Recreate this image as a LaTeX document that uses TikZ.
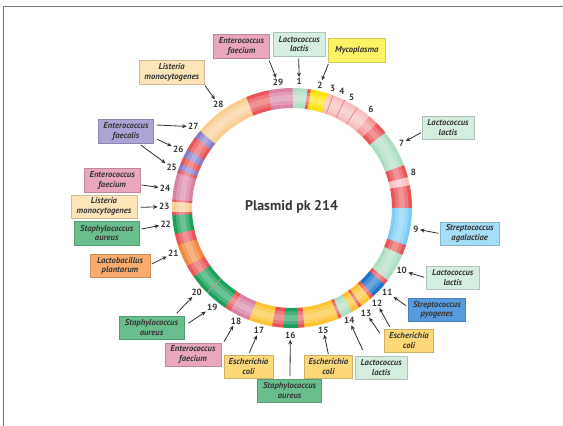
\documentclass[tikz,border=0pt]{standalone}
\usepackage{fontspec}
\setmainfont{PT Sans}
\usetikzlibrary{arrows.meta}
\definecolor{txt}{RGB}{55,55,55}
\definecolor{framec}{RGB}{120,120,120}
% label box fills
\definecolor{bpink}{RGB}{233,166,189}
\definecolor{bmint}{RGB}{214,238,224}
\definecolor{byellow}{RGB}{255,242,100}
\definecolor{bpeach}{RGB}{253,228,185}
\definecolor{blav}{RGB}{172,164,212}
\definecolor{bgreen}{RGB}{104,190,140}
\definecolor{borange}{RGB}{250,172,110}
\definecolor{blblue}{RGB}{165,222,248}
\definecolor{bblue}{RGB}{85,155,222}
\definecolor{bgold}{RGB}{253,216,120}
% ring colours
\definecolor{rred}{RGB}{234,85,90}
\definecolor{rlpink}{RGB}{248,190,190}
\definecolor{rmint}{RGB}{175,222,195}
\definecolor{ryel}{RGB}{255,225,0}
\definecolor{rlblue}{RGB}{125,205,245}
\definecolor{rdblue}{RGB}{25,115,205}
\definecolor{rgold}{RGB}{253,195,50}
\definecolor{rgreen}{RGB}{25,160,90}
\definecolor{rpink}{RGB}{218,130,165}
\definecolor{rpeach}{RGB}{250,205,145}
\definecolor{rpurple}{RGB}{135,125,200}
\definecolor{rorange}{RGB}{245,135,60}
\definecolor{rdiv}{RGB}{225,120,120}
\begin{document}
\begin{tikzpicture}[x=1pt,y=-1pt,
  lbl/.style={draw=#1!82!black, fill=#1, line width=0.5pt, minimum height=23.5pt,
    inner sep=1pt, align=center,
    font=\fontsize{8.6}{9.8}\selectfont\bfseries\itshape, text=txt},
  num/.style={font=\fontsize{9}{10}\selectfont\bfseries, text=txt, inner sep=0.8pt},
  arr/.style={-{Stealth[length=4.5pt,width=4pt]}, line width=0.8pt, draw=txt!85!black, shorten >=0.5pt}]
\useasboundingbox (0,0) rectangle (563,426);
\draw[framec, line width=1.2pt] (3.7,426) -- (3.7,6.7) -- (563,6.7);

% ring
\coordinate (C) at (292,208);
\foreach \s/\e/\c in {0/7.5/rmint, 7.5/9/rred, 9/17.5/ryel, 17.5/40/rlpink, 40/45/rlpink!60!rred,
  45/51/rred, 51/69/rmint, 69/75/rred, 75/79/rlpink, 79/90/rred, 90/108/rlblue, 108/113/rred,
  113/127/rmint, 127/129.5/rred, 129.5/137/rdblue, 137/139/rred, 139/144.5/rgold, 144.5/146/rred,
  146/150/rgold, 150/155.5/rmint, 155.5/157/rred, 157/174/rgold, 174/177/rred, 177/184/rgreen,
  184/189.5/rred, 189.5/201/rgold, 201/211/rpink, 211/214/rred, 214/235/rgreen, 235/241/rred,
  241/252/rorange, 252/257.5/rred, 257.5/266.5/rgreen, 266.5/268/rred, 268/273/rpeach,
  273/274/rred, 274/287/rpink, 287/288.5/rred, 288.5/291.5/rpurple, 291.5/295/rred,
  295/299/rpurple, 299/306/rred, 306/310/rpurple, 310/337.5/rpeach, 337.5/348.5/rred,
  348.5/360/rpink}{
  \pgfmathsetmacro\aS{\s-90}
  \pgfmathsetmacro\aE{\e-90+0.4}
  \draw[line width=20pt, \c] (C) ++(\aS:110) arc[start angle=\aS, end angle=\aE, radius=110];
}
\draw[white, opacity=0.2, line width=13pt] (C) circle[radius=110];
\draw[white, opacity=0.2, line width=6pt] (C) circle[radius=110];
\foreach \p in {20,26,33}{
  \pgfmathsetmacro\a{\p-90}
  \draw[rdiv, line width=0.6pt] (C) ++(\a:100) -- ++(\a:20);
}
\draw[rred!70, line width=0.5pt] (C) ++(135:100) -- ++(135:20);

\node[font=\fontsize{14}{16}\selectfont\bfseries, text=txt] (title) at (291.6,206.7) {Plasmid pk 214};

% numbers
\node[num] (n1) at (299.2,81.7) {1};
\node[num] (n2) at (320,85) {2};
\node[num] (n3) at (332.7,88.3) {3};
\node[num] (n4) at (342,91.7) {4};
\node[num] (n5) at (351.7,97.3) {5};
\node[num] (n6) at (371,109.3) {6};
\node[num] (n7) at (401.7,143.3) {7};
\node[num] (n8) at (413.3,172.3) {8};
\node[num] (n9) at (416,229) {9};
\node[num] (n10) at (401.7,270.7) {10};
\node[num] (n11) at (387.3,292.5) {11};
\node[num] (n12) at (377,303.5) {12};
\node[num] (n13) at (366,313) {13};
\node[num] (n14) at (349.3,320.7) {14};
\node[num] (n15) at (323.3,330) {15};
\node[num] (n16) at (290.3,335) {16};
\node[num] (n17) at (259,330.7) {17};
\node[num] (n18) at (236,321) {18};
\node[num] (n19) at (212.3,307.3) {19};
\node[num] (n20) at (196.7,292.3) {20};
\node[num] (n21) at (173.3,253.3) {21};
\node[num] (n22) at (165.7,224.3) {22};
\node[num] (n23) at (164.3,206.7) {23};
\node[num] (n24) at (165,188.3) {24};
\node[num] (n25) at (171.7,167.7) {25};
\node[num] (n26) at (178.3,149.3) {26};
\node[num] (n27) at (193.3,126.7) {27};
\node[num] (n28) at (218.3,104) {28};
\node[num] (n29) at (278,82.7) {29};

% label boxes
\node[lbl=bpink, minimum width=55.7pt] (eft) at (241.5,46.2) {Enterococcus\\faecium};
\node[lbl=bmint, minimum width=51.4pt] (llt) at (299.3,44) {Lactococcus\\lactis};
\node[lbl=byellow, minimum width=56.5pt] (myc) at (356.8,50) {Mycoplasma};
\node[lbl=bpeach, minimum width=64.7pt] (lmt) at (171.7,72) {Listeria\\monocytogenes};
\node[lbl=bmint, minimum width=52pt] (ll7) at (448,127.5) {Lactococcus\\lactis};
\node[lbl=blav, minimum width=55.3pt] (efs) at (126,131) {Enterococcus\\faecalis};
\node[lbl=bpink, minimum width=55.6pt] (efl) at (112.2,180) {Enterococcus\\faecium};
\node[lbl=bpeach, minimum width=66.5pt] (lml) at (104,206.7) {Listeria\\monocytogenes};
\node[lbl=bgreen, minimum width=64.7pt] (sal) at (106.7,233) {Staphylococcus\\aureus};
\node[lbl=borange, minimum width=59.6pt] (lpl) at (120,265.8) {Lactobacillus\\plantarum};
\node[lbl=blblue, minimum width=59pt] (sag) at (469.7,233.7) {Streptococcus\\agalactiae};
\node[lbl=bmint, minimum width=52.4pt] (ll10) at (452.8,277.8) {Lactococcus\\lactis};
\node[lbl=bblue, minimum width=57.1pt] (spy) at (436.9,309.8) {Streptococcus\\pyogenes};
\node[lbl=bgold, minimum width=48.8pt] (ec12) at (409,340.8) {Escherichia\\coli};
\node[lbl=bmint, minimum width=51.3pt] (ll14) at (381.2,367.5) {Lactococcus\\lactis};
\node[lbl=bgold, minimum width=48.5pt] (ec15) at (328.4,366.5) {Escherichia\\coli};
\node[lbl=bgreen, minimum width=64.2pt] (sa16) at (289.6,390.8) {Staphylococcus\\aureus};
\node[lbl=bgold, minimum width=48.9pt] (ec17) at (248.5,366.5) {Escherichia\\coli};
\node[lbl=bpink, minimum width=55.6pt] (ef18) at (193,354.5) {Enterococcus\\faecium};
\node[lbl=bgreen, minimum width=64.6pt] (sa19) at (151.5,327.7) {Staphylococcus\\aureus};

% arrow tails
\coordinate (t29) at (269.3,60.7);
\coordinate (t1) at (298.7,58.3);
\coordinate (t2) at (328.3,64);
\coordinate (t7) at (421,132.7);
\coordinate (t9) at (438.3,233.3);
\coordinate (t10) at (424.3,277.3);
\coordinate (t11) at (406,305.7);
\coordinate (t12) at (389.6,326.7);
\coordinate (t13) at (379.9,333.3);
\coordinate (t14) at (362.7,350);
\coordinate (t15) at (328.3,354);
\coordinate (t16) at (290,376);
\coordinate (t17) at (249.3,352.7);
\coordinate (t18) at (224,341.7);
\coordinate (t19) at (188.3,323.3);
\coordinate (t20) at (176.7,313.3);
\coordinate (t21) at (151.7,264);
\coordinate (t22) at (141.7,229);
\coordinate (t23) at (140.7,207.3);
\coordinate (t24) at (141.7,185);
\coordinate (t25) at (140.7,145);
\coordinate (t26) at (157.3,139.3);
\coordinate (t27) at (156.7,125);
\coordinate (t28) at (205,85.7);

\foreach \k in {29,1,2,7,9,10,11,12,13,14,15,16,17,18,19,20,21,22,23,24,25,26,27,28}{
  \draw[arr] (t\k) -- (n\k);
}
\end{tikzpicture}
\end{document}
